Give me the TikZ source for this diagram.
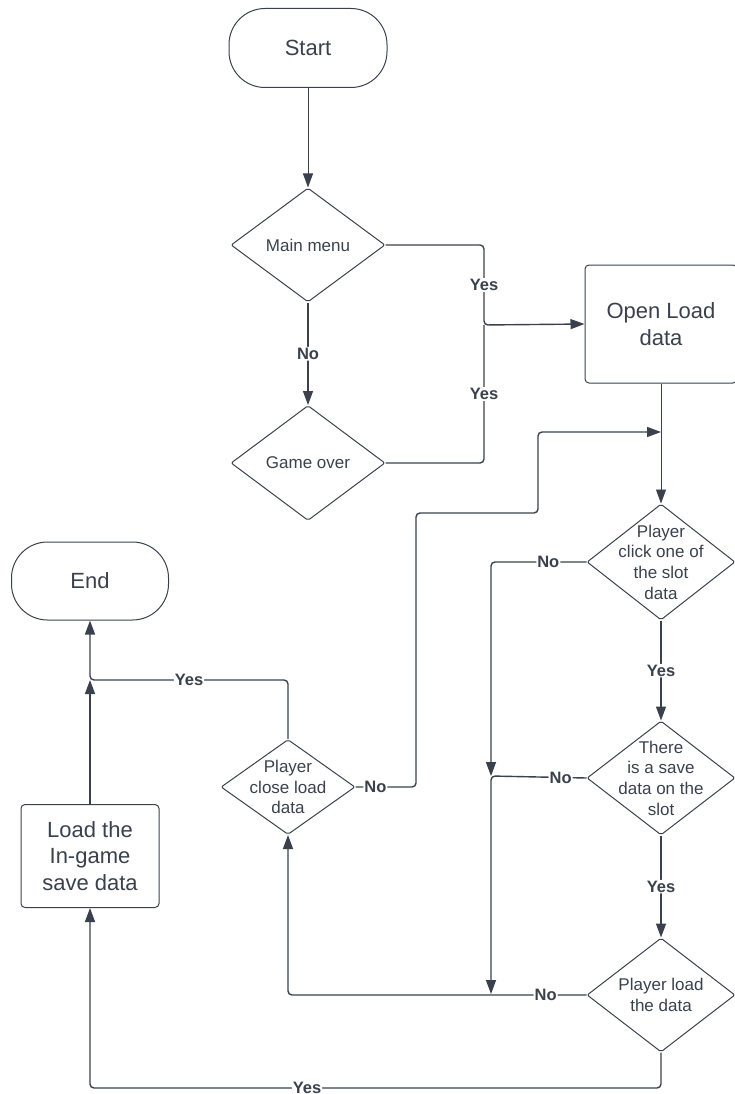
\documentclass[tikz,border=0pt]{standalone}
\usepackage{fontspec}
\setmainfont{Liberation Sans}
\usepackage{tikz}
\usetikzlibrary{arrows.meta,shapes.geometric,positioning}
\definecolor{ink}{RGB}{58,65,76}

\begin{document}
\begin{tikzpicture}[x=1pt,y=-1pt,
  every node/.style={text=ink},
  term/.style={draw=ink,line width=1pt,rounded corners=36pt,minimum width=158pt,minimum height=79pt,font=\fontsize{22}{26}\selectfont},
  proc/.style={draw=ink,line width=1pt,rounded corners=4pt,align=center,font=\fontsize{22}{26.5}\selectfont},
  dec/.style={diamond,draw=ink,line width=1pt,inner sep=0pt,rounded corners=2pt},
  dtext/.style={align=center,font=\fontsize{17}{20.7}\selectfont},
  lbl/.style={fill=white,inner sep=1pt,font=\bfseries\fontsize{16.5}{18}\selectfont},
  flow/.style={draw=ink,line width=1.4pt,rounded corners=4pt},
  tip/.style={-{Triangle[length=14pt,width=10pt]}}]
\useasboundingbox (0,0) rectangle (734,1094);
\node[term] (start) at (308,48) {Start};
\node[dec,minimum width=154pt,minimum height=114pt,label={[dtext]center:Main menu}] (main) at (308,245) {};
\node[dec,minimum width=154pt,minimum height=115pt,label={[dtext]center:Game over}] (game) at (308,463) {};
\node[proc,minimum width=152pt,minimum height=118pt] (open) at (661,324) {Open Load\\data};
\node[dec,minimum width=148pt,minimum height=116pt,label={[dtext]center:Player\\click one of\\the slot\\data}] (click) at (661,562) {};
\node[dec,minimum width=148pt,minimum height=114pt,label={[dtext]center:There\\is a save\\data on the\\slot}] (there) at (661,778) {};
\node[dec,minimum width=148pt,minimum height=114pt,label={[dtext]center:Player load\\the data}] (pload) at (661,995) {};
\node[dec,minimum width=134pt,minimum height=95pt,label={[dtext]center:Player\\close load\\data}] (close) at (288,787) {};
\node[term,minimum width=157pt,minimum height=78pt] (end) at (90,581) {End};
\node[proc,minimum width=138pt,minimum height=103pt] (load) at (90,856) {Load the\\In-game\\save data};
\coordinate (jy) at (484,325);
\coordinate (back) at (661,432);
\coordinate (jn) at (491,776);
\coordinate (jl) at (491,994);
\coordinate (je) at (90,680);
\coordinate (bot) at (90,1088);
\draw[flow,line width=0.9pt,tip] (start.south) -- (main.north);
\draw[flow,tip] (main.south) -- node[lbl]{No} (game.north);
\draw[flow,tip] (main.east) -| node[lbl,pos=.75]{Yes} (jy) -- (open.west);
\draw[flow] (game.east) -| node[lbl,pos=.75]{Yes} (jy);
\draw[flow,line width=0.9pt,tip] (open.south) -- (click.north);
\draw[flow,tip] (close.east) -- node[lbl,pos=.33]{No} (416,787) |- (538,513) |- (back);
\draw[flow,tip] (click.west) -- node[lbl,pos=.4]{No} (click.west -| jn) -- (jn);
\draw[flow,tip] (there.west) -- node[lbl,pos=.27]{No} (jn) -- (jl);
\draw[flow,tip] (click.south) -- node[lbl]{Yes} (there.north);
\draw[flow,tip] (there.south) -- node[lbl]{Yes} (pload.north);
\draw[flow,tip] (pload.west) -- node[lbl,pos=.137]{No} (pload.west -| close.south) -- (close.south);
\draw[flow,tip] (pload.south) |- node[lbl,pos=.81]{Yes} (bot) -- (load.south);
\draw[flow,tip] (load.north) -- (je);
\draw[flow,tip] (close.north) |- node[lbl,pos=.75]{Yes} (je) -- (end.south);
\end{tikzpicture}
\end{document}
